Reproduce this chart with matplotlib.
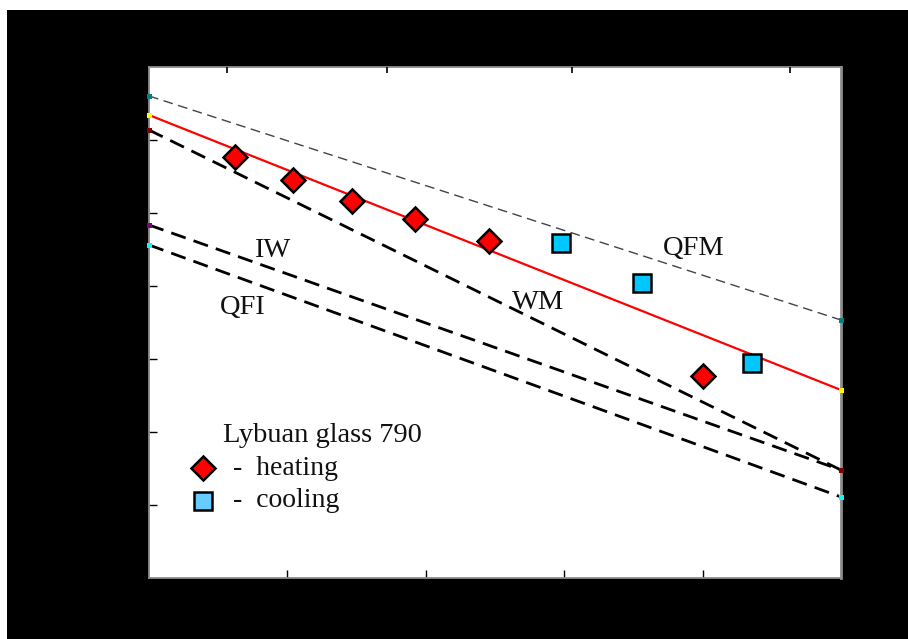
import matplotlib
matplotlib.use("Agg")
import matplotlib.pyplot as plt
from matplotlib.patches import Rectangle

plt.rcParams['font.family'] = ['Liberation Serif', 'DejaVu Serif']

# Axis ranges and tick positions
x_range = [0.0, 5.0]
y_range = [0.0, 7.0]
bottom_ticks = [1, 2, 3, 4]
left_ticks = [1, 2, 3, 4, 5, 6]
top_ticks = [0.564, 1.72, 3.056, 4.63]

# Buffer lines (values at the left and right edge of the plot)
line_x = [0.0, 5.0]
qfm_y = [6.603, 3.534]
fit_y = [6.342, 2.575]
wm_y = [6.137, 1.479]
iw_y = [4.836, 1.479]
qfi_y = [4.562, 1.110]

# Measurements
heating_x = [0.62, 1.04, 1.47, 1.92, 2.46, 4.00]
heating_y = [5.77, 5.45, 5.17, 4.92, 4.62, 2.77]
cooling_x = [2.98, 3.56, 4.36]
cooling_y = [4.59, 4.04, 2.95]

# Buffer labels
buffer_names = ["IW", "QFI", "WM", "QFM"]
buffer_label_x = [0.889, 0.679, 2.811, 3.934]
buffer_label_y = [4.397, 3.616, 3.685, 4.425]

fig = plt.figure(figsize=(9.08, 6.39), dpi=100, facecolor='white')
fig.patches.append(Rectangle((7 / 908, 0), 1, (639 - 10) / 639,
                             transform=fig.transFigure, facecolor='black',
                             edgecolor='none', zorder=-10))

ax = fig.add_axes([149 / 908, 61 / 639, 692 / 908, 511 / 639])
ax.set_facecolor('white')
ax.set_xlim(x_range)
ax.set_ylim(y_range)

dash_k = dict(color='black', lw=2.0, dashes=(5.5, 3))
ax.plot(line_x, qfm_y, color='#444444', lw=1.0, dashes=(7, 4), zorder=2)
ax.plot(line_x, fit_y, color='#ff0000', lw=1.6, zorder=2)
ax.plot(line_x, wm_y, zorder=2, **dash_k)
ax.plot(line_x, iw_y, zorder=2, **dash_k)
ax.plot(line_x, qfi_y, zorder=2, **dash_k)

# small end markers of each line
end_k = dict(marker='s', ms=3.6, ls='none', mew=0, clip_on=False, zorder=4)
ax.plot(line_x, qfm_y, color='#008080', **end_k)
ax.plot(line_x, fit_y, color='#ffff00', **end_k)
ax.plot(line_x[:1], iw_y[:1], color='#800080', **end_k)
ax.plot(line_x, wm_y, color='#800000', **end_k)
ax.plot(line_x, qfi_y, color='#00ffff', **end_k)

ax.plot(heating_x, heating_y, ls='none', marker='D', ms=12,
        mfc='#ff0000', mec='black', mew=1.8, zorder=5)
ax.plot(cooling_x, cooling_y, ls='none', marker='s', ms=13.5,
        mfc='#00c8ff', mec='black', mew=1.8, zorder=5)

for name, lx, ly in zip(buffer_names, buffer_label_x, buffer_label_y):
    ax.text(lx, ly, name, ha='center', va='baseline', fontsize=20.5,
            color='#111111', zorder=6)

# key
ax.text(0.1069, 0.2661, "Lybuan glass 790", transform=ax.transAxes,
        ha='left', va='baseline', fontsize=20.5, color='#111111')
ax.plot([0.078], [0.2153], transform=ax.transAxes, ls='none', marker='D',
        ms=12, mfc='#ff0000', mec='black', mew=1.8)
ax.plot([0.078], [0.1507], transform=ax.transAxes, ls='none', marker='s',
        ms=13.5, mfc='#66ccff', mec='black', mew=1.8)
ax.text(0.1214, 0.2016, "-  heating", transform=ax.transAxes,
        ha='left', va='baseline', fontsize=20, color='#111111')
ax.text(0.1214, 0.139, "-  cooling", transform=ax.transAxes,
        ha='left', va='baseline', fontsize=20, color='#111111')

ax.set_xticks(bottom_ticks)
ax.set_yticks(left_ticks)
ax.tick_params(axis='both', direction='in', length=6, width=1.0,
               color='black', labelbottom=False, labelleft=False)

ax2 = ax.twiny()
ax2.set_xlim(x_range)
ax2.set_xticks(top_ticks)
ax2.tick_params(axis='x', direction='in', length=4, width=1.2,
                color='black', labeltop=False)
for sp in ax2.spines.values():
    sp.set_visible(False)

for side, sp in ax.spines.items():
    sp.set_color('#8c8c8c')
    sp.set_linewidth(1.3)
ax.spines['right'].set_linewidth(2.0)

fig.savefig('out.png', dpi=100, facecolor=fig.get_facecolor())
